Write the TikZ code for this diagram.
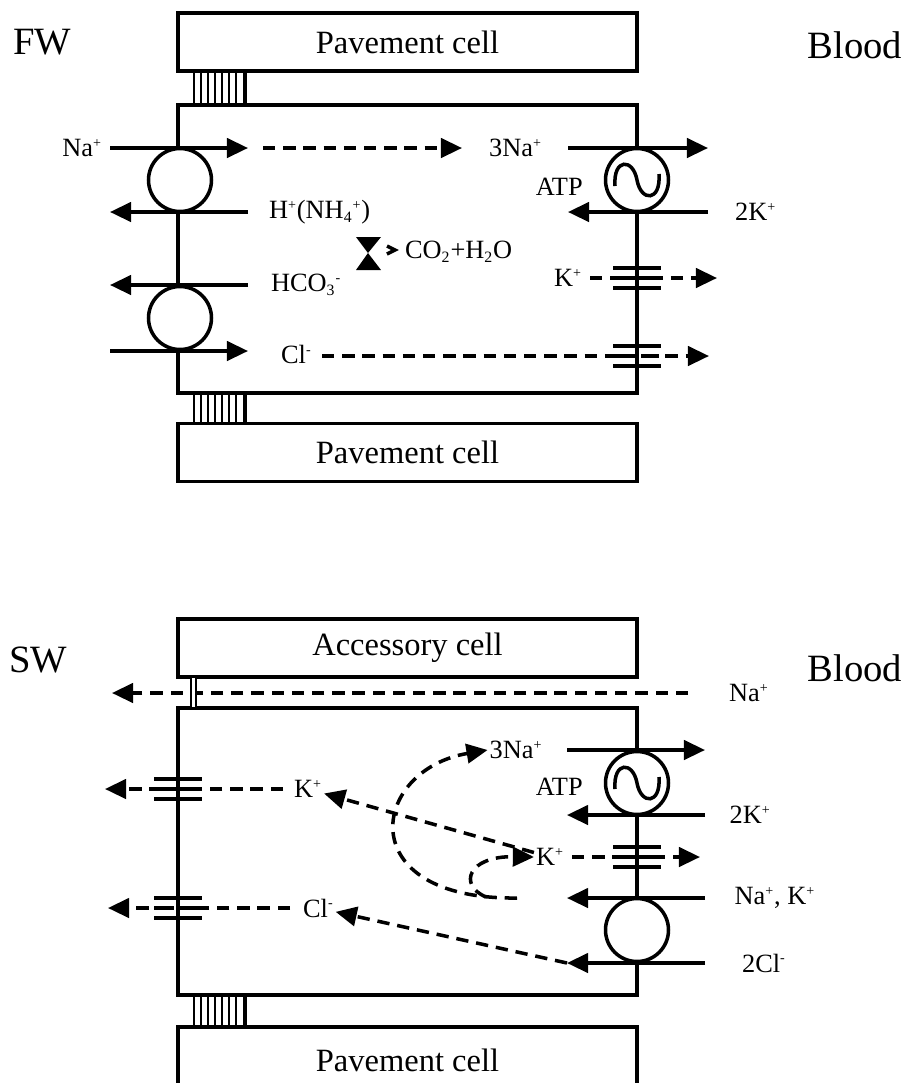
\documentclass[tikz,border=0pt]{standalone}
\usepackage{fontspec}
\setmainfont{Liberation Serif}
\usetikzlibrary{arrows.meta,positioning}
\newcommand\up[1]{\textsuperscript{\fontsize{8}{8}\selectfont #1}}
\newcommand\dn[1]{\textsubscript{\fontsize{9}{9}\selectfont #1}}
\newcommand\ionchan[2]{%
  \draw[mem] (#1-24,#2-10) -- (#1+24,#2-10) (#1-24,#2+10) -- (#1+24,#2+10)
    (#1-24,#2) -- (#1-4,#2) (#1+4,#2) -- (#1+22,#2);}
\newcommand\atpwave[2]{%
  \draw[mem] (#1-22,#2+6) .. controls (#1-24,#2-22) and (#1-4,#2-22) .. (#1,#2)
    .. controls (#1+4,#2+22) and (#1+24,#2+22) .. (#1+22,#2-6);}
\begin{document}
\begin{tikzpicture}[x=0.02cm, y=-0.02cm,
  every node/.style={font=\fontsize{15}{17}\selectfont,inner sep=1pt},
  mem/.style={line width=2pt},
  flow/.style={line width=2pt,-{Triangle[length=12pt,width=11pt]}},
  dflow/.style={flow,dash pattern=on 7pt off 4.5pt},
  cellbox/.style={draw,line width=2pt,minimum width=9.18cm,minimum height=1.16cm,inner sep=0pt,font=\fontsize{18.5}{20}\selectfont},
  side/.style={font=\fontsize{22}{24}\selectfont},
  porter/.style={draw,line width=2pt,fill=white,circle,minimum size=1.26cm,inner sep=0pt}]
\useasboundingbox (0,0) rectangle (914,1083);
% FW cell
\node[side] (fw) at (42,42) {FW};
\node[side] (bloodFW) at (855,45) {Blood};
\node[cellbox] (pavTop) at (407.5,42) {Pavement cell};
\node[cellbox] (pavMid) at (407.5,452.5) {Pavement cell};
\draw[mem] (178,105) rectangle (637,393);
\foreach \ya/\yb in {71/105,393/423,995/1027} {
  \foreach \x in {194,201,...,237} \draw[line width=0.8pt] (\x,\ya) -- (\x,\yb);
  \draw[line width=2.6pt] (245,\ya) -- (245,\yb);
}
\node[porter] (nhe) at (180,180) {};
\node[porter] (ae) at (180,318) {};
\node[porter] (pumpFW) at (637,180) {};
\atpwave{637}{180}
\coordinate (naA) at (110,148); \coordinate (naB) at (248,148);
\coordinate (hA) at (248,212); \coordinate (hB) at (110,212);
\coordinate (bcA) at (248,285); \coordinate (bcB) at (110,285);
\coordinate (clA) at (110,351); \coordinate (clB) at (248,351);
\coordinate (ndA) at (263,148); \coordinate (ndB) at (462,148);
\coordinate (pnA) at (568,148); \coordinate (pnB) at (708,148);
\coordinate (pkA) at (708,212); \coordinate (pkB) at (568,212);
\coordinate (kdA) at (590,278); \coordinate (kdB) at (717,278);
\coordinate (cdA) at (322,356); \coordinate (cdB) at (709,356);
\draw[flow] (naA) -- (naB);
\draw[flow] (hA) -- (hB);
\draw[flow] (bcA) -- (bcB);
\draw[flow] (clA) -- (clB);
\draw[dflow] (ndA) -- (ndB);
\draw[flow] (pnA) -- (pnB);
\draw[flow] (pkA) -- (pkB);
\draw[dflow] (kdA) -- (kdB);
\draw[dflow] (cdA) -- (cdB);
\node[left=0.12cm of naA] (naFW) {Na\up{+}};
\node[right=0.38cm of hA] (hFW) {H\up{+}(NH\dn{4}\up{+})};
\node[right=0.42cm of bcA] (bcFW) {HCO\dn{3}\up{-}};
\node[right=0.62cm of clB,yshift=-2pt] (clFW) {Cl\up{-}};
\node[right=0.5cm of ndB] (na3FW) {3Na\up{+}};
\node[left=0.38cm of pumpFW.west,yshift=-4pt] (atpFW) {ATP};
\node[right=0.5cm of pkA] (k2FW) {2K\up{+}};
\node[left=0.12cm of kdA] (kFW) {K\up{+}};
\ionchan{637}{278}
\ionchan{637}{356}
% carbonic anhydrase
\fill (356,237) -- (381,237) -- (368,253) -- cycle;
\fill (356,270) -- (381,270) -- (368,253) -- cycle;
\draw[line width=2pt] (387,246) -- (395,250) -- (387,254);
\node[anchor=west] (co2) at (403,252) {CO\dn{2}+H\dn{2}O};
% SW cell
\node[side] (sw) at (38,660) {SW};
\node[side] (bloodSW) at (855,668) {Blood};
\node[cellbox] (acc) at (407.5,648) {Accessory cell};
\draw[mem] (178,708) rectangle (637,995);
\draw[mem] (178,1095) |- (637,1027) -- (637,1095);
\node[font=\fontsize{18.5}{20}\selectfont] (pavSW) at (407.5,1060) {Pavement cell};
\coordinate (snaA) at (688,693); \coordinate (snaB) at (112,693);
\draw[dflow] (snaA) -- (snaB);
\draw[line width=0.6pt,fill=white] (191,677) rectangle (196,708);
\node[right=0.78cm of snaA] (naSW) {Na\up{+}};
\node[porter] (pumpSW) at (637,783) {};
\node[porter] (nkcc) at (637,930) {};
\atpwave{637}{783}
\coordinate (spnA) at (567,750); \coordinate (spnB) at (705,750);
\coordinate (spkA) at (705,815); \coordinate (spkB) at (567,815);
\coordinate (skdA) at (572,857); \coordinate (skdB) at (700,857);
\coordinate (snkA) at (705,898); \coordinate (snkB) at (567,898);
\coordinate (sclA) at (705,963); \coordinate (sclB) at (567,963);
\coordinate (lkA) at (283,789); \coordinate (lkB) at (105,789);
\coordinate (lclA) at (290,908); \coordinate (lclB) at (108,908);
\draw[flow] (spnA) -- (spnB);
\draw[flow] (spkA) -- (spkB);
\draw[dflow] (skdA) -- (skdB);
\draw[flow] (snkA) -- (snkB);
\draw[flow] (sclA) -- (sclB);
\draw[dflow] (lkA) -- (lkB);
\draw[dflow] (lclA) -- (lclB);
\node[left=0.45cm of spnA] (na3SW) {3Na\up{+}};
\node[left=0.38cm of pumpSW.west,yshift=-2pt] (atpSW) {ATP};
\node[right=0.45cm of spkA] (k2SW) {2K\up{+}};
\node[left=0.12cm of skdA] (kR) {K\up{+}};
\node[right=0.55cm of snkA] (nakSW) {Na\up{+}, K\up{+}};
\node[right=0.7cm of sclA] (cl2SW) {2Cl\up{-}};
\node[right=0.18cm of lkA] (kL) {K\up{+}};
\node[right=0.22cm of lclA] (clL) {Cl\up{-}};
\ionchan{637}{857}
\ionchan{178}{789}
\ionchan{178}{908}
% recycling
\coordinate (loopA) at (517,898); \coordinate (loopB) at (486,897);
\draw[dflow] (kR) -- (kL);
\draw[dflow] (sclB) -- (clL);
\draw[dflow] (loopA) .. controls (350,900) and (370,770) .. (na3SW.west);
\draw[dflow] (loopB) .. controls (458,885) and (468,856) .. (kR.west);
\end{tikzpicture}
\end{document}
